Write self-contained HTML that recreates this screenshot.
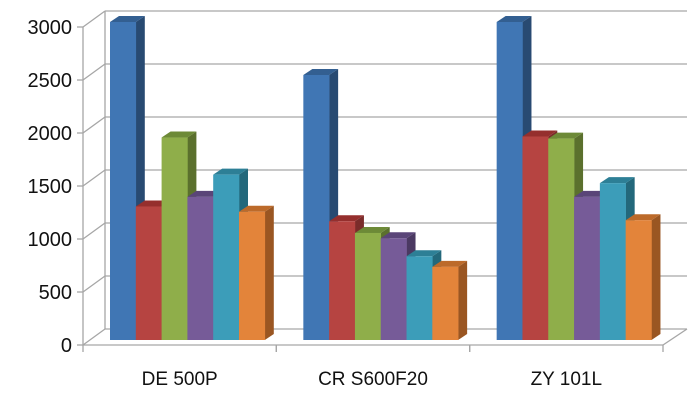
<!DOCTYPE html>
<html><head><meta charset="utf-8"><style>
html,body{margin:0;padding:0;background:#fff;}
svg{display:block;font-family:"Liberation Sans",sans-serif;}
</style></head><body>
<svg id="chart" width="700" height="403" viewBox="0 0 700 403" xmlns="http://www.w3.org/2000/svg">
<g id="grid"></g>
<g id="bars"></g>
<g id="axes"></g>
</svg>
<script>
const categories = ["DE 500P", "CR S600F20", "ZY 101L"];
const series1 = [3000, 2500, 3000];
const series2 = [1260, 1120, 1920];
const series3 = [1910, 1010, 1900];
const series4 = [1350, 960, 1350];
const series5 = [1560, 790, 1480];
const series6 = [1210, 690, 1130];
const yTicks = [0, 500, 1000, 1500, 2000, 2500, 3000];

const allSeries = [series1, series2, series3, series4, series5, series6];
const fronts = ["#4076b4", "#b64441", "#8fae4a", "#765b98", "#3c9db9", "#e3843a"];
const sides  = ["#284a72", "#7a2c2a", "#5b702d", "#4b3962", "#23687b", "#9a5622"];
const tops   = ["#335f91", "#952f2d", "#6d8a37", "#5a4578", "#2d7f96", "#bc6a2a"];

const NS = "http://www.w3.org/2000/svg";
const X0 = 83, X1 = 663, Y0 = 345, YMAX = 3000, H = 318;
const DX = 22, DY = -16;
const catW = (X1 - X0) / categories.length;
const yF = v => Y0 - v / YMAX * H;
const BAR_BASE = 340, bw = 25.8, bdx = 9, bdy = -6;
const yB = v => BAR_BASE - v / YMAX * H;

function mk(tag, attrs, parent) {
  const e = document.createElementNS(NS, tag);
  for (const k in attrs) e.setAttribute(k, attrs[k]);
  parent.appendChild(e);
  return e;
}
const grid = document.getElementById('grid');
const axes = document.getElementById('axes');
const bars = document.getElementById('bars');

// back wall and gridlines
yTicks.forEach(t => {
  const yf = yF(t);
  const gl = mk('line', {x1: X0 + DX, y1: yf + DY, x2: X1 + DX + 2, y2: yf + DY, stroke: '#a6a6a6', 'stroke-width': 1.3}, grid);
  
  
  const dg = mk('line', {x1: X0, y1: yf, x2: X0 + DX, y2: yf + DY, stroke: '#a6a6a6', 'stroke-width': 1.3}, grid);
  
  
  const tk = mk('line', {x1: X0 - 6, y1: yf, x2: X0, y2: yf, stroke: '#a6a6a6', 'stroke-width': 1.3}, axes);
  
  
  const lb = mk('text', {x: 72, y: yf + 7, 'text-anchor': 'end', 'font-size': 20, fill: '#111'}, axes);
  lb.textContent = t;
  
  
});
const bw1 = mk('line', {x1: X0 + DX, y1: yF(0) + DY, x2: X0 + DX, y2: yF(YMAX) + DY, stroke: '#a6a6a6', 'stroke-width': 1.3}, grid);


const fl = mk('line', {x1: X1, y1: Y0, x2: X1 + DX + 2, y2: Y0 + DY, stroke: '#a6a6a6', 'stroke-width': 1.3}, grid);



// axes
const ya = mk('line', {x1: X0, y1: yF(YMAX), x2: X0, y2: Y0, stroke: '#a6a6a6', 'stroke-width': 1.3}, axes);


const xa = mk('line', {x1: X0, y1: Y0, x2: X1, y2: Y0, stroke: '#a6a6a6', 'stroke-width': 1.3}, axes);



categories.forEach((c, i) => {
  for (const xb of [X0 + i * catW, X0 + (i + 1) * catW]) {
    const t = mk('line', {x1: xb, y1: Y0, x2: xb, y2: Y0 + 7, stroke: '#a6a6a6', 'stroke-width': 1.3}, axes);
    
    
  }
  const lb = mk('text', {x: X0 + (i + 0.5) * catW, y: 385, 'text-anchor': 'middle', 'font-size': 19, fill: '#111'}, axes);
  lb.textContent = c;
  
  

  const gStart = X0 + i * catW + 27;
  allSeries.forEach((s, j) => {
    const v = s[i];
    const x = gStart + j * bw, top = yB(v);
    const g = mk('g', {}, bars);
    
    
    mk('polygon', {points: `${x+bw},${top} ${x+bw+bdx},${top+bdy} ${x+bw+bdx},${BAR_BASE+bdy} ${x+bw},${BAR_BASE}`, fill: sides[j]}, g);
    mk('polygon', {points: `${x},${top} ${x+bdx},${top+bdy} ${x+bw+bdx},${top+bdy} ${x+bw},${top}`, fill: tops[j]}, g);
    mk('rect', {x: x, y: top, width: bw + 0.3, height: BAR_BASE - top, fill: fronts[j]}, g);
  });
});
</script>
</body></html>
